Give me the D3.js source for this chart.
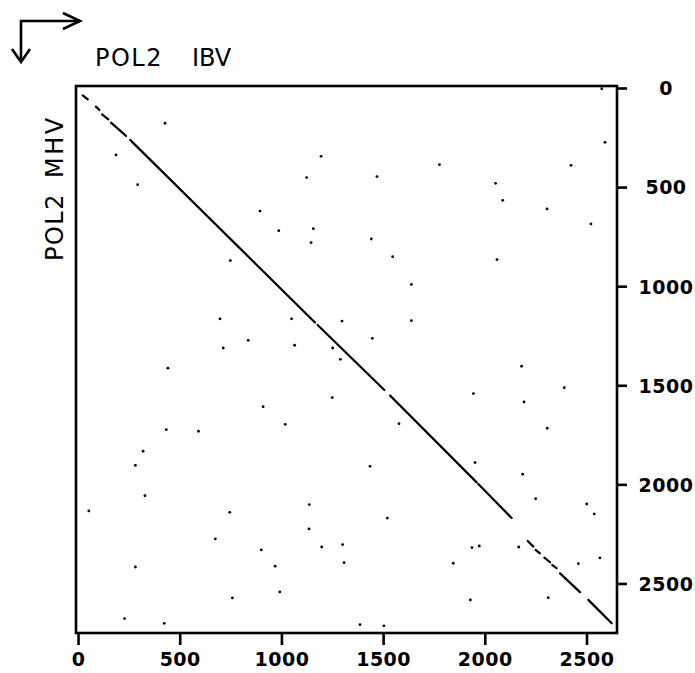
<!DOCTYPE html>
<html>
<head>
<meta charset="utf-8">
<script src="https://cdn.jsdelivr.net/npm/d3@7"></script>
<style>
  body { margin: 0; background: #fff; }
  svg { display: block; }
  text { font-family: "DejaVu Sans", sans-serif; fill: #000; }
</style>
</head>
<body>
<svg></svg>
<script>
// sequence lengths / tick values
var xTicks = [0, 500, 1000, 1500, 2000, 2500];
var yTicks = [0, 500, 1000, 1500, 2000, 2500];
var xTitle = ["POL2", "IBV"];
var yTitle = ["POL2", "MHV"];

// diagonal match runs [x1, y1, x2, y2] (residue positions)
var runs = [
  [23, 37, 48, 57],
  [88, 94, 105, 111],
  [118, 133, 149, 158],
  [162, 175, 236, 242],
  [256, 262, 1165, 1183],
  [1178, 1196, 1506, 1524],
  [1534, 1552, 1960, 1990],
  [1968, 1998, 2132, 2170],
  [2211, 2286, 2239, 2314],
  [2250, 2331, 2271, 2348],
  [2293, 2370, 2321, 2393],
  [2332, 2407, 2353, 2423],
  [2370, 2449, 2468, 2544],
  [2509, 2583, 2624, 2701]
];

// isolated matches [x, y]
var dots = [
  [428, 178], [187, 338], [293, 488], [1195, 345], [1124, 452], [895, 621],
  [987, 720], [1157, 710], [1146, 780], [749, 871], [698, 1165], [1050, 1165],
  [1298, 1176], [837, 1273], [714, 1312], [1065, 1298], [1252, 1312], [1290, 1369],
  [2575, 4], [2591, 274], [1777, 387], [1470, 447], [2424, 390], [2053, 481],
  [2088, 567], [2306, 610], [2522, 686], [1442, 762], [1547, 851], [2060, 866],
  [1639, 991], [1639, 1174], [1447, 1263],
  [442, 1414], [1250, 1562], [910, 1608], [1019, 1697], [434, 1724], [592, 1732],
  [320, 1833], [282, 1904], [329, 2057], [53, 2134], [746, 2141], [1137, 2102],
  [1136, 2225], [675, 2275], [901, 2331], [1198, 2316], [1301, 2304], [1308, 2395],
  [282, 2417], [969, 2413], [992, 2543], [759, 2573], [229, 2677], [424, 2701],
  [2181, 1404], [2391, 1512], [1944, 1542], [2193, 1584], [1578, 1694], [2307, 1717],
  [1436, 1909], [1952, 1890], [2186, 1949], [2250, 2072], [2501, 2099], [2538, 2149],
  [1521, 2170], [1937, 2319], [1973, 2311], [2167, 2316], [2566, 2371], [1845, 2398],
  [2460, 2400], [2312, 2572], [1929, 2583], [1386, 2708], [1504, 2714]
];

var W = 695, H = 673;
var svg = d3.select("svg").attr("width", W).attr("height", H);

var box = { left: 76, right: 617, top: 86, bottom: 633 };

var x = d3.scaleLinear().domain([-10, 2650]).range([box.left, box.right]);
var y = d3.scaleLinear().domain([-10, 2750]).range([box.top, box.bottom]);

// corner arrows
var arrows = svg.append("g")
  .attr("fill", "none").attr("stroke", "#000")
  .attr("stroke-width", 2.6).attr("stroke-linejoin", "miter");
arrows.append("path").attr("d", "M21,62 L21,21 L80,21");
arrows.append("path").attr("d", "M63,13 L80,21 L63,29");
arrows.append("path").attr("d", "M12,49 L21,62 L30,49");

// titles
svg.append("text").attr("x", 95).attr("y", 66)
  .attr("font-size", 24).attr("letter-spacing", 1.5).text(xTitle[0]);
svg.append("text").attr("x", 192).attr("y", 66)
  .attr("font-size", 24).attr("letter-spacing", 0).text(xTitle[1]);

svg.append("text").attr("transform", "translate(63,261) rotate(-90)")
  .attr("font-size", 24).attr("letter-spacing", 1.5).text(yTitle[0]);
svg.append("text").attr("transform", "translate(63,178) rotate(-90)")
  .attr("font-size", 24).attr("letter-spacing", 2.5).text(yTitle[1]);

// axes
var xAxis = svg.append("g")
  .attr("transform", "translate(0," + box.bottom + ")")
  .call(d3.axisBottom(x).tickValues(xTicks).tickFormat(d3.format("d"))
    .tickSize(12).tickPadding(8));
var yAxis = svg.append("g")
  .attr("transform", "translate(" + box.right + ",0)")
  .call(d3.axisRight(y).tickValues(yTicks).tickFormat(d3.format("d")).tickSize(10));

[xAxis, yAxis].forEach(function(g) {
  g.select(".domain").remove();
  g.selectAll(".tick line").attr("stroke", "#000").attr("stroke-width", 2.6);
  g.selectAll(".tick text")
    .attr("font-family", "DejaVu Sans, sans-serif")
    .attr("font-size", 19).attr("font-weight", "bold")
    .attr("letter-spacing", 0.5).attr("fill", "#000");
});
yAxis.selectAll(".tick text")
  .attr("x", 49).attr("dy", "0.36em").attr("text-anchor", "middle");

// plot frame
svg.append("rect")
  .attr("x", box.left).attr("y", box.top)
  .attr("width", box.right - box.left).attr("height", box.bottom - box.top)
  .attr("fill", "none").attr("stroke", "#000").attr("stroke-width", 2.6);

// match runs
svg.append("g").selectAll("line")
  .data(runs)
  .enter()
  .append("line")
  .attr("x1", function(d) { return x(d[0]); })
  .attr("y1", function(d) { return y(d[1]); })
  .attr("x2", function(d) { return x(d[2]); })
  .attr("y2", function(d) { return y(d[3]); })
  .attr("stroke", "#000").attr("stroke-width", 2.2).attr("stroke-linecap", "round");

// isolated dots
svg.append("g").selectAll("circle")
  .data(dots)
  .enter()
  .append("circle")
  .attr("cx", function(d) { return x(d[0]); })
  .attr("cy", function(d) { return y(d[1]); })
  .attr("r", 1.4)
  .attr("fill", "#000");
</script>
</body>
</html>
